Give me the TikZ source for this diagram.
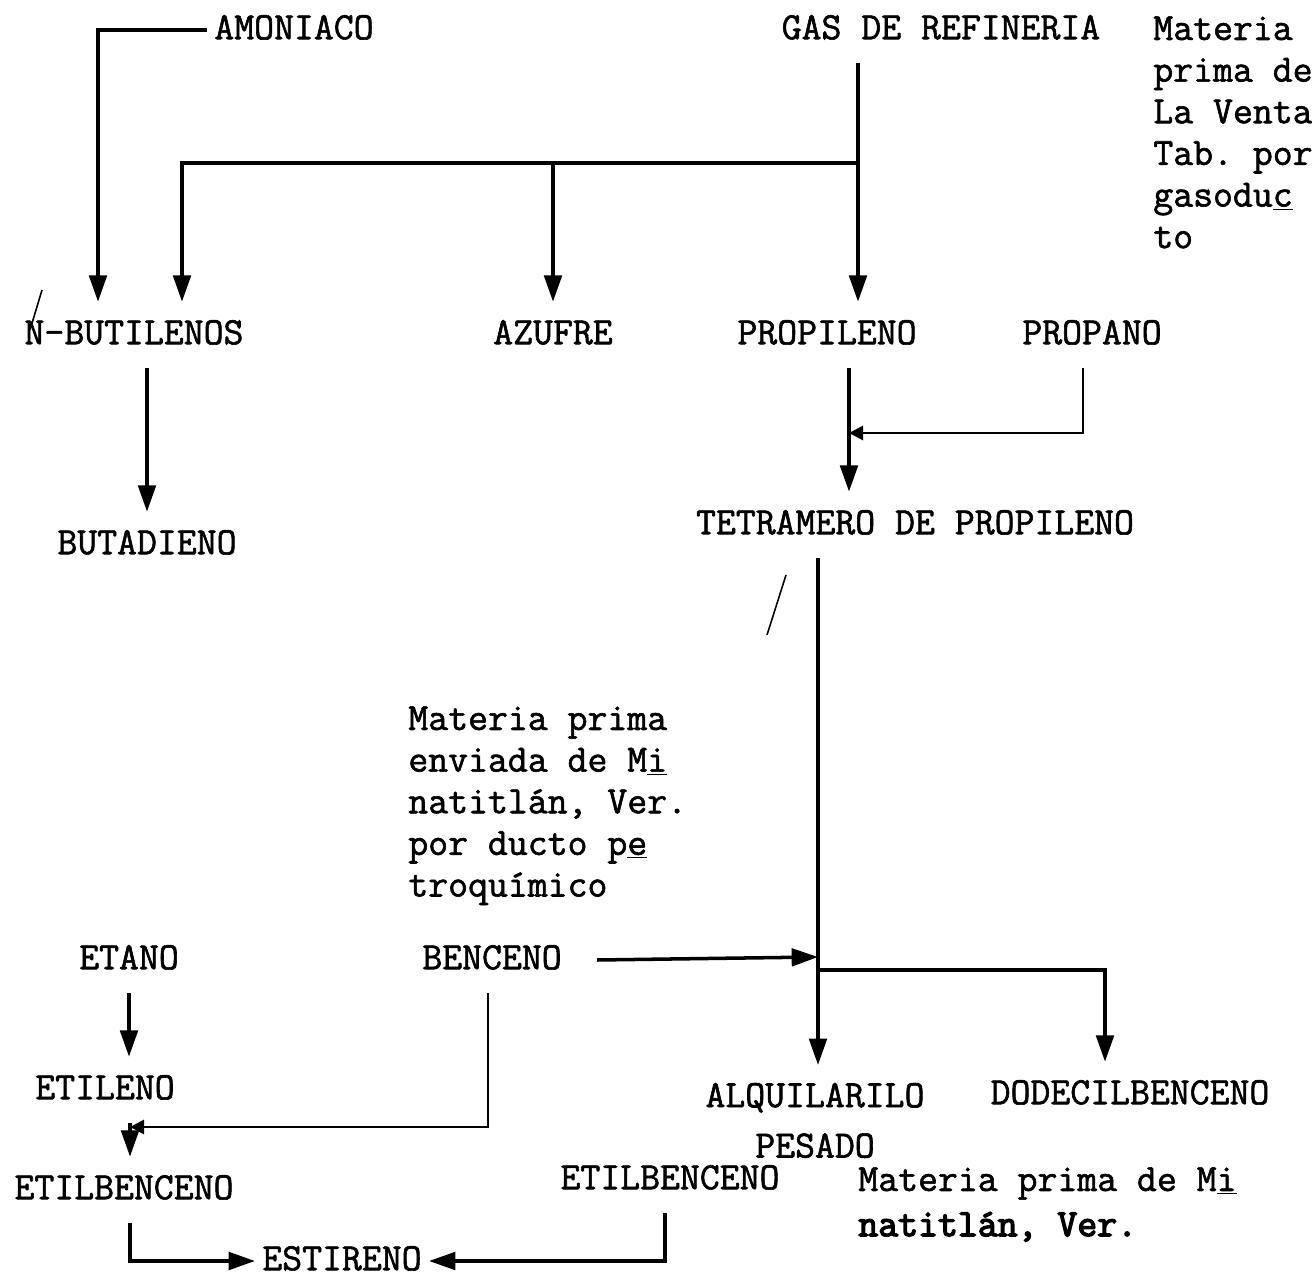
\documentclass[tikz,border=0pt]{standalone}
\usepackage{fontspec}
\setmonofont{Latin Modern Mono}[FakeBold=1.5]
\newfontfamily\heavytt{Latin Modern Mono}[FakeBold=3.5]
\usetikzlibrary{arrows.meta,calc}

\begin{document}
\begin{tikzpicture}[x=0.02cm, y=-0.02cm,
      chem/.style={
        % The text:
        font=\ttfamily\fontsize{22}{23.7}\selectfont,
        text height=15pt, text depth=4.5pt,
        % The rest
        inner xsep=4pt, inner ysep=9pt},
      note/.style={
        font=\ttfamily\fontsize{22}{23.7}\selectfont,
        align=left, anchor=north west, inner sep=0pt},
      flow/.style={line width=2pt, -{Triangle[length=15pt,width=10pt]}},
      feed/.style={line width=1.6pt, -{Triangle[length=8pt,width=8pt]}},
      scribble/.style={line width=0.9pt}]
    \useasboundingbox (0,0) rectangle (1312,1280);

    % sources
    \node(amon)[chem] at (294,30) {AMONIACO};
    \node(gas)[chem] at (941,30) {GAS DE REFINERIA};
    \node(venta)[note] at (1153,16) {Materia\\prima de\\La Venta\\Tab. por\\gasodu\underline{c}\\to};

    % first products
    \node(nbut)[chem] at (134,335) {N-BUTILENOS};
    \node(azufre)[chem] at (553,335) {AZUFRE};
    \node(propil)[chem] at (827,335) {PROPILENO};
    \node(propano)[chem] at (1092,335) {PROPANO};
    \node(butad)[chem] at (147,545) {BUTADIENO};
    \node(tetra)[chem] at (915,525) {TETRAMERO DE PROPILENO};

    \coordinate(jgas) at (858,163);
    \draw[flow] (amon.west) -| ($(nbut.north)+(-36,0)$);
    \draw[flow] (gas.south -| jgas) -- (jgas |- propil.north);
    \draw[flow] (jgas) -| ($(nbut.north)+(48,0)$);
    \draw[flow] (azufre.north |- jgas) -- (azufre.north);
    \draw[flow] (butad.north |- nbut.south) -- (butad.north);

    \coordinate(jprop) at (849,433);
    \draw[flow] (propil.south -| jprop) -- (jprop |- tetra.north);
    \draw[feed] ($(propano.south)+(-9,0)$) |- (jprop);

    % Minatitlan feed
    \node(minat)[note] at (408,706) {Materia prima\\enviada de M\underline{i}\\natitl\'an, Ver.\\por ducto p\underline{e}\\troqu\'imico};
    \node(etano)[chem] at (129,960) {ETANO};
    \node(benceno)[chem] at (492,960) {BENCENO};
    \node(etileno)[chem] at (105,1090) {ETILENO};
    \node(alquil)[note, align=center, anchor=north, inner ysep=10pt] at (815,1065) {ALQUILARILO\\[5pt]PESADO};
    \node(dodec)[chem] at (1130,1095) {DODECILBENCENO};
    \node(etilbl)[chem] at (124,1190) {ETILBENCENO};
    \node(etilbr)[chem] at (670,1180) {ETILBENCENO};
    \node(estir)[chem] at (342,1261) {ESTIRENO};
    \node(minat2)[note] at (858,1167) {Materia prima de M\underline{i}\\[2pt]{\heavytt natitl\'an, Ver.}};

    \coordinate(jben) at (818,957);
    \coordinate(jdod) at (818,970);
    \draw[flow] (tetra.south -| jben) -- (jben |- alquil.north);
    \draw[flow] ($(benceno.east)+(28,0)$) -- (jben);
    \draw[flow] (jdod) -| ($(dodec.north)+(-25,0)$);

    \coordinate(jeti) at (130,1127);
    \draw[flow] (etano.south) -- (etano.south |- etileno.north);
    \draw[flow] (etileno.south -| jeti) -- (jeti |- etilbl.north);
    \draw[feed] ($(benceno.south)+(-4,0)$) |- (jeti);
    \draw[flow] (etilbl.south -| jeti) |- (estir.west);
    \draw[flow] ($(etilbr.south)+(-5,0)$) |- (estir.east);

    % pencil marks
    \draw[scribble] (30,330) -- (42,290);
    \draw[scribble] (786,575) -- (767,635);
  \end{tikzpicture}
\end{document}
